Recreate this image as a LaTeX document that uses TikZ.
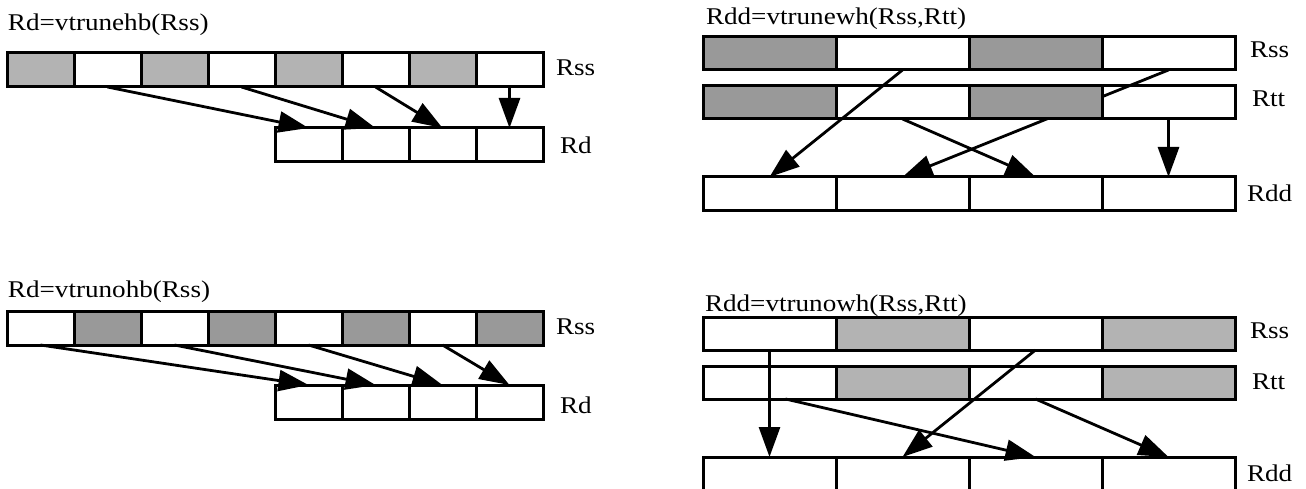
\documentclass[tikz,border=0pt]{standalone}
\usepackage{fontspec}
\setmainfont{Liberation Serif}[FakeStretch=1.13]
\usetikzlibrary{arrows.meta,backgrounds}
\definecolor{lightg}{HTML}{B3B3B3}
\definecolor{darkg}{HTML}{999999}
\begin{document}
\begin{tikzpicture}[x=1pt,y=-1pt,
  cellbase/.style={draw=black, line width=3pt, inner sep=0pt, outer sep=0pt, anchor=west},
  narrowcell/.style={cellbase, minimum width=67pt, minimum height=34pt},
  widecell/.style={cellbase, minimum width=133pt, minimum height=33pt},
  lbl/.style={inner sep=0pt, outer sep=0pt, anchor=base west, font=\fontsize{24}{28}\selectfont},
  conn/.style={line width=2.8pt, -{Triangle[length=30pt,width=21pt]}}]
\useasboundingbox (0,0) rectangle (1306,489);

% ---------- top left: vtrunehb ----------
\node[lbl] (tlTitle) at (8,31) {Rd=vtrunehb(Rss)};
\foreach \i in {1,3,5,7} \node[narrowcell, fill=lightg] (tlS\i) at ({7+(\i-1)*67},70) {};
\foreach \i in {2,4,6,8} \node[narrowcell] (tlS\i) at ({7+(\i-1)*67},70) {};
\foreach \i in {1,...,4} \node[narrowcell] (tlD\i) at ({275+(\i-1)*67},145) {};
\node[lbl] (tlRss) at (556,76) {Rss};
\node[lbl] (tlRd) at (560,154) {Rd};

% ---------- bottom left: vtrunohb ----------
\node[lbl] (blTitle) at (8,297) {Rd=vtrunohb(Rss)};
\foreach \i in {2,4,6,8} \node[narrowcell, fill=darkg] (blS\i) at ({7+(\i-1)*67},328) {};
\foreach \i in {1,3,5,7} \node[narrowcell] (blS\i) at ({7+(\i-1)*67},328) {};
\foreach \i in {1,...,4} \node[narrowcell] (blD\i) at ({275+(\i-1)*67},402) {};
\node[lbl] (blRss) at (556,334) {Rss};
\node[lbl] (blRd) at (560,413) {Rd};

% ---------- top right: vtrunewh ----------
\node[lbl] (trTitle) at (706,25) {Rdd=vtrunewh(Rss,Rtt)};
\foreach \i in {1,3} {
  \node[widecell, fill=darkg] (trS\i) at ({703+(\i-1)*133},53.5) {};
  \node[widecell, fill=darkg] (trT\i) at ({703+(\i-1)*133},102.5) {};
}
\foreach \i in {2,4} {
  \node[widecell] (trS\i) at ({703+(\i-1)*133},53.5) {};
  \node[widecell] (trT\i) at ({703+(\i-1)*133},102.5) {};
}
\foreach \i in {1,...,4} \node[widecell, minimum height=34pt] (trD\i) at ({703+(\i-1)*133},194) {};
\node[lbl] (trRss) at (1250,58) {Rss};
\node[lbl] (trRtt) at (1252,107) {Rtt};
\node[lbl] (trRdd) at (1247,201) {Rdd};

% ---------- bottom right: vtrunowh ----------
\node[lbl] (brTitle) at (705,311) {Rdd=vtrunowh(Rss,Rtt)};
\foreach \i in {2,4} {
  \node[widecell, fill=lightg] (brS\i) at ({703+(\i-1)*133},333.5) {};
  \node[widecell, fill=lightg] (brT\i) at ({703+(\i-1)*133},382.5) {};
}
\foreach \i in {1,3} {
  \node[widecell] (brS\i) at ({703+(\i-1)*133},333.5) {};
  \node[widecell] (brT\i) at ({703+(\i-1)*133},382.5) {};
}
\foreach \i in {1,...,4} \node[widecell, minimum height=34pt] (brD\i) at ({703+(\i-1)*133},474) {};
\node[lbl] (brRss) at (1250,338) {Rss};
\node[lbl] (brRtt) at (1252,389) {Rtt};
\node[lbl] (brRdd) at (1247,481) {Rdd};

% ---------- connectors (behind the registers) ----------
\begin{scope}[on background layer]
  \draw[conn] (tlS2.south) -- (tlD1.north);
  \draw[conn] (tlS4.south) -- (tlD2.north);
  \draw[conn] (tlS6.south) -- (tlD3.north);
  \draw[conn] (tlS8.south) -- (tlD4.north);

  \draw[conn] (blS1.south) -- (blD1.north);
  \draw[conn] (blS3.south) -- (blD2.north);
  \draw[conn] (blS5.south) -- (blD3.north);
  \draw[conn] (blS7.south) -- (blD4.north);

  \draw[conn] (trS2.south) -- (trD1.north);
  \draw[conn] (trS4.south) -- (trD2.north);
  \draw[conn] (trT2.south) -- (trD3.north);
  \draw[conn] (trT4.south) -- (trD4.north);

  \draw[conn] (brS1.south) -- (brD1.north);
  \draw[conn] (brS3.south) -- (brD2.north);
  \draw[conn] ([xshift=16pt]brT1.south) -- (brD3.north);
  \draw[conn] (brT3.south) -- (brD4.north);
\end{scope}
\end{tikzpicture}
\end{document}
